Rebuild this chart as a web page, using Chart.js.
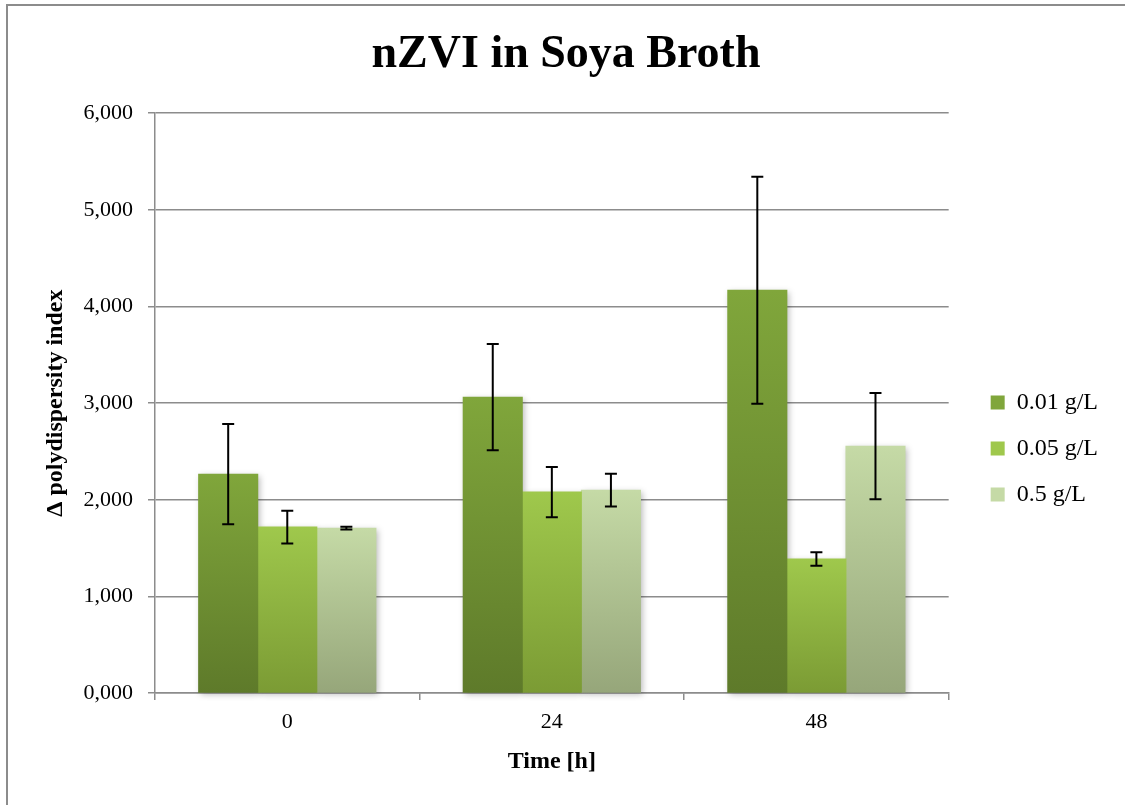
<!DOCTYPE html>
<html lang="en">
<head>
    <meta charset="UTF-8">
    <title>nZVI in Soya Broth</title>
    <style>
        body { margin: 0; background: #fff; overflow: hidden; }
        #frame { position: absolute; left: 6px; top: 4px; width: 1200px; height: 900px; border: 2px solid #8c8c8c; }
        #pdiChart { position: absolute; left: 0; top: 0; }
    </style>
</head>
<body>
    <div id="frame"></div>
    <canvas id="pdiChart" width="1125" height="805"></canvas>
    <script src="https://cdn.jsdelivr.net/npm/chart.js"></script>
    <script>
        // values (scale shown as 0,000 - 6,000)
        const timeLabels = ['0', '24', '48'];
        const seriesNames = ['0.01 g/L', '0.05 g/L', '0.5 g/L'];
        const pdi001 = [2.265, 3.061, 4.167];
        const pdi005 = [1.717, 2.079, 1.386];
        const pdi05 = [1.706, 2.099, 2.554];
        const err001 = [0.52, 0.55, 1.175];
        const err005 = [0.17, 0.26, 0.07];
        const err05 = [0.015, 0.17, 0.55];
        const yTicks = [0, 1, 2, 3, 4, 5, 6];

        // top / bottom colour of each bar gradient
        const shades = [
            ['#80a63b', '#5e7a2a'],
            ['#9fc84c', '#7b9b34'],
            ['#c5daa6', '#96a67a']
        ];

        const serif = 'Liberation Serif, Times New Roman, serif';

        function barFill(i) {
            return function (context) {
                const chart = context.chart;
                if (!chart.chartArea || context.type !== 'data') {
                    return shades[i][0];
                }
                const y = chart.scales.y;
                const top = y.getPixelForValue(context.parsed.y);
                const bottom = y.getPixelForValue(0);
                const g = chart.ctx.createLinearGradient(0, top, 0, bottom);
                g.addColorStop(0, shades[i][0]);
                g.addColorStop(1, shades[i][1]);
                return g;
            };
        }

        const values = [pdi001, pdi005, pdi05];
        const errors = [err001, err005, err05];

        // soft shadow behind every bar, painted before the bars themselves
        const barShadow = {
            id: 'barShadow',
            beforeDatasetsDraw(chart) {
                const ctx = chart.ctx;
                ctx.save();
                ctx.fillStyle = 'rgba(0,0,0,0.28)';
                ctx.filter = 'blur(3px)';
                chart.data.datasets.forEach((ds, di) => {
                    chart.getDatasetMeta(di).data.forEach(bar => {
                        const p = bar.getProps(['x', 'y', 'base', 'width'], true);
                        ctx.fillRect(p.x - p.width / 2 + 2, p.y + 2, p.width, p.base - p.y);
                    });
                });
                ctx.restore();
            }
        };

        const errorBars = {
            id: 'errorBars',
            afterDatasetsDraw(chart) {
                const ctx = chart.ctx;
                const y = chart.scales.y;
                ctx.save();
                ctx.strokeStyle = '#000';
                ctx.lineWidth = 2;
                chart.data.datasets.forEach((ds, di) => {
                    const meta = chart.getDatasetMeta(di);
                    meta.data.forEach((bar, i) => {
                        const v = ds.data[i];
                        const e = errors[di][i];
                        const yHi = y.getPixelForValue(v + e);
                        const yLo = y.getPixelForValue(v - e);
                        ctx.beginPath();
                        ctx.moveTo(bar.x, yHi);
                        ctx.lineTo(bar.x, yLo);
                        ctx.moveTo(bar.x - 6, yHi);
                        ctx.lineTo(bar.x + 6, yHi);
                        ctx.moveTo(bar.x - 6, yLo);
                        ctx.lineTo(bar.x + 6, yLo);
                        ctx.stroke();
                    });
                });
                ctx.restore();
            }
        };

        // move the legend a bit right and down, like the original
        const legendShift = {
            id: 'legendShift',
            afterLayout(chart) {
                const lg = chart.legend;
                lg.left += 20;
                lg.right += 20;
                lg.top += 46;
                lg.bottom += 46;
            }
        };

        const ctx = document.getElementById('pdiChart').getContext('2d');
        new Chart(ctx, {
            type: 'bar',
            data: {
                labels: timeLabels,
                datasets: values.map((vals, i) => ({
                    label: seriesNames[i],
                    data: vals,
                    backgroundColor: barFill(i),
                    borderWidth: 0,
                    inflateAmount: 0.5,
                    barPercentage: 1,
                    categoryPercentage: 0.67
                }))
            },
            options: {
                responsive: false,
                animation: false,
                layout: { padding: { top: 0, right: 37, bottom: 0, left: 44 } },
                plugins: {
                    title: {
                        display: true,
                        text: 'nZVI in Soya Broth',
                        color: '#000',
                        font: { family: serif, size: 46, weight: 'bold' },
                        padding: { top: 28, bottom: 30 }
                    },
                    legend: {
                        position: 'right',
                        labels: {
                            color: '#000',
                            boxWidth: 14,
                            boxHeight: 14,
                            padding: 22,
                            font: { family: serif, size: 24 }
                        }
                    },
                    tooltip: { enabled: false }
                },
                scales: {
                    x: {
                        afterFit(scale) { scale.height = 112; },
                        grid: {
                            offset: true,
                            drawOnChartArea: false,
                            tickLength: 7,
                            color: '#8c8c8c',
                            lineWidth: 1.5
                        },
                        border: { color: '#8c8c8c', width: 1.5 },
                        ticks: {
                            color: '#000',
                            padding: 9,
                            font: { family: serif, size: 22 }
                        },
                        title: {
                            display: true,
                            text: 'Time [h]',
                            color: '#000',
                            font: { family: serif, size: 24, weight: 'bold' },
                            padding: { top: 0, bottom: 29 }
                        }
                    },
                    y: {
                        min: yTicks[0],
                        max: yTicks[yTicks.length - 1],
                        afterFit(scale) { scale.width = 111; },
                        afterBuildTicks(scale) {
                            scale.ticks = yTicks.map(v => ({ value: v }));
                        },
                        grid: {
                            color: '#8c8c8c',
                            lineWidth: 1.5,
                            tickLength: 7
                        },
                        border: { color: '#8c8c8c', width: 1.5 },
                        ticks: {
                            color: '#000',
                            padding: 15,
                            font: { family: serif, size: 22 },
                            callback: v => v.toFixed(3).replace('.', ',')
                        },
                        title: {
                            display: true,
                            text: 'Δ polydispersity index',
                            color: '#000',
                            font: { family: serif, size: 24, weight: 'bold' },
                            padding: { top: -3, bottom: 0 }
                        }
                    }
                }
            },
            plugins: [barShadow, errorBars, legendShift]
        });
    </script>
</body>
</html>
